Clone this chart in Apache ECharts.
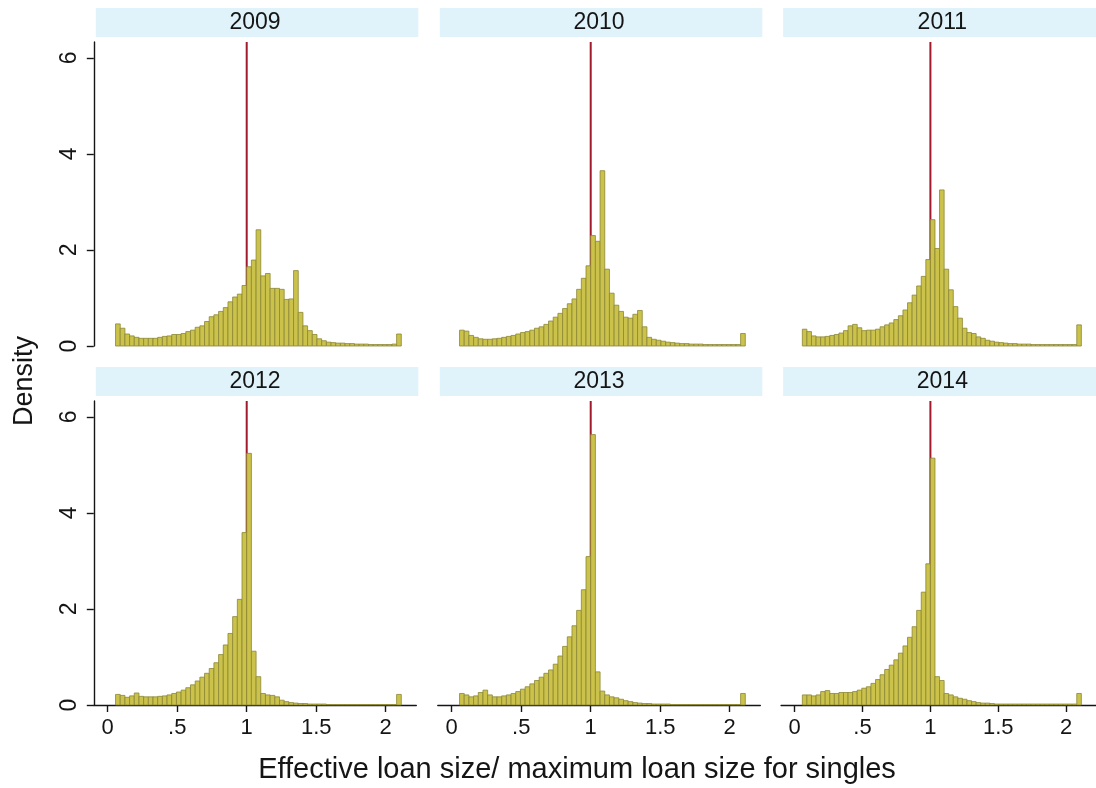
<!DOCTYPE html>
<html>
<head>
<meta charset="utf-8">
<script src="https://cdn.jsdelivr.net/npm/echarts@6/dist/echarts.min.js"></script>
<style>
  html, body { margin: 0; padding: 0; background: #ffffff; }
  #chart { width: 1096px; height: 788px; }
</style>
</head>
<body>
<div id="chart"></div>
<script>
// Histogram bins: 61 equal-width bins, one edge sitting at the cap (ratio = 1)
const BIN_START = 0.0564;
const BIN_WIDTH = 0.0337;

const years = ['2009', '2010', '2011', '2012', '2013', '2014'];

const density2009 = [
  0.46, 0.37, 0.25, 0.21, 0.18, 0.16, 0.16, 0.16, 0.16, 0.18,
  0.20, 0.21, 0.24, 0.24, 0.26, 0.30, 0.33, 0.39, 0.42, 0.51,
  0.61, 0.65, 0.72, 0.80, 0.92, 1.02, 1.08, 1.26, 1.65, 1.79,
  2.42, 1.46, 1.51, 1.20, 1.20, 1.18, 0.97, 0.98, 1.57, 0.70,
  0.42, 0.32, 0.24, 0.15, 0.11, 0.08, 0.07, 0.06, 0.06, 0.05,
  0.05, 0.04, 0.04, 0.04, 0.03, 0.03, 0.03, 0.03, 0.03, 0.04,
  0.25
];
const density2010 = [
  0.33, 0.31, 0.22, 0.18, 0.15, 0.14, 0.14, 0.15, 0.16, 0.18,
  0.20, 0.22, 0.25, 0.28, 0.30, 0.33, 0.37, 0.40, 0.45, 0.52,
  0.60, 0.68, 0.78, 0.88, 0.98, 1.18, 1.41, 1.67, 2.30, 2.18,
  3.65, 1.60, 1.10, 0.85, 0.72, 0.60, 0.58, 0.66, 0.74, 0.40,
  0.18, 0.14, 0.12, 0.10, 0.08, 0.07, 0.06, 0.05, 0.05, 0.04,
  0.04, 0.04, 0.03, 0.03, 0.03, 0.03, 0.03, 0.03, 0.03, 0.03,
  0.26
];
const density2011 = [
  0.35, 0.30, 0.21, 0.19, 0.19, 0.20, 0.22, 0.24, 0.27, 0.32,
  0.42, 0.45, 0.38, 0.32, 0.33, 0.33, 0.35, 0.40, 0.44, 0.48,
  0.55, 0.63, 0.75, 0.90, 1.06, 1.25, 1.45, 1.80, 2.63, 2.03,
  3.25, 1.60, 1.17, 0.82, 0.58, 0.37, 0.28, 0.26, 0.19, 0.16,
  0.12, 0.10, 0.08, 0.07, 0.06, 0.05, 0.05, 0.04, 0.04, 0.04,
  0.03, 0.03, 0.03, 0.03, 0.03, 0.03, 0.03, 0.03, 0.03, 0.03,
  0.44
];
const density2012 = [
  0.22, 0.20, 0.16, 0.19, 0.25, 0.18, 0.17, 0.17, 0.17, 0.18,
  0.19, 0.21, 0.24, 0.27, 0.31, 0.36, 0.42, 0.50, 0.58, 0.66,
  0.76, 0.88, 1.05, 1.25, 1.49, 1.84, 2.20, 3.59, 5.24, 1.12,
  0.59, 0.24, 0.21, 0.20, 0.17, 0.10, 0.07, 0.05, 0.04, 0.03,
  0.03, 0.02, 0.02, 0.02, 0.02, 0.01, 0.01, 0.01, 0.01, 0.01,
  0.01, 0.01, 0.01, 0.01, 0.01, 0.01, 0.01, 0.01, 0.01, 0.01,
  0.22
];
const density2013 = [
  0.24, 0.21, 0.17, 0.19, 0.26, 0.31, 0.21, 0.17, 0.17, 0.19,
  0.21, 0.24, 0.28, 0.33, 0.38, 0.44, 0.51, 0.58, 0.66, 0.73,
  0.85, 1.02, 1.22, 1.42, 1.65, 1.97, 2.40, 3.09, 5.63, 0.69,
  0.29, 0.21, 0.17, 0.15, 0.12, 0.09, 0.07, 0.05, 0.04, 0.03,
  0.03, 0.02, 0.02, 0.02, 0.02, 0.01, 0.01, 0.01, 0.01, 0.01,
  0.01, 0.01, 0.01, 0.01, 0.01, 0.01, 0.01, 0.01, 0.01, 0.01,
  0.24
];
const density2014 = [
  0.21, 0.21, 0.19, 0.21, 0.28, 0.30, 0.24, 0.24, 0.26, 0.26,
  0.26, 0.28, 0.31, 0.35, 0.38, 0.45, 0.53, 0.63, 0.74, 0.83,
  0.94, 1.08, 1.23, 1.41, 1.63, 1.97, 2.35, 2.94, 5.14, 0.59,
  0.51, 0.24, 0.21, 0.17, 0.14, 0.12, 0.09, 0.07, 0.05, 0.04,
  0.04, 0.03, 0.02, 0.02, 0.02, 0.02, 0.02, 0.02, 0.02, 0.02,
  0.02, 0.02, 0.02, 0.02, 0.02, 0.02, 0.02, 0.02, 0.02, 0.02,
  0.24
];
const densities = [density2009, density2010, density2011, density2012, density2013, density2014];

const xTicks = [0, 0.5, 1, 1.5, 2];
const xTickLabels = ['0', '.5', '1', '1.5', '2'];
const yTicks = [0, 2, 4, 6];
const yTickLabels = ['0', '2', '4', '6'];
const capRatio = 1;   // vertical reference line
const xTitle = 'Effective loan size/ maximum loan size for singles';
const yTitle = 'Density';

// axis extents and panel geometry
const X_MIN = -0.1, X_MAX = 2.22, Y_MAX = 6.33;
const colLeft = [93.8, 437.8, 781.1];
const rowTop = [42, 401];
const PANEL_W = 322.5, PANEL_H = 304;
const FONT = '"Liberation Sans", Arial, Helvetica, sans-serif';
const BAR_FILL = '#cac24a', BAR_EDGE = '#8c8734', CAP_RED = '#a01a2c';
const STRIP_FILL = '#e0f3fa';
const INK = '#151515';

const grids = [], xAxes = [], yAxes = [], series = [], graphics = [];

years.forEach((yr, k) => {
  const row = Math.floor(k / 3), col = k % 3;
  const bottomRow = row === 1, leftCol = col === 0;
  grids.push({ left: colLeft[col], top: rowTop[row], width: PANEL_W, height: PANEL_H });

  xAxes.push({
    type: 'value', gridIndex: k, min: X_MIN, max: X_MAX,
    axisLine: { show: bottomRow, onZero: false, lineStyle: { color: INK, width: 1.4 } },
    axisTick: { show: bottomRow, customValues: xTicks, length: 7, lineStyle: { color: INK, width: 1.4 } },
    axisLabel: {
      show: bottomRow, customValues: xTicks, margin: 12,
      formatter: v => xTickLabels[xTicks.indexOf(v)] ?? '',
      fontFamily: FONT, fontSize: 22, color: INK
    },
    splitLine: { show: false }
  });
  yAxes.push({
    type: 'value', gridIndex: k, min: 0, max: Y_MAX,
    axisLine: { show: leftCol, onZero: false, lineStyle: { color: INK, width: 1.4 } },
    axisTick: { show: leftCol, customValues: yTicks, length: 7, lineStyle: { color: INK, width: 1.4 } },
    axisLabel: {
      show: leftCol, customValues: yTicks, rotate: 90, margin: 13,
      formatter: v => yTickLabels[yTicks.indexOf(v)] ?? '',
      fontFamily: FONT, fontSize: 23, color: INK
    },
    splitLine: { show: false }
  });

  // reference line at the loan cap, drawn beneath the bars
  series.push({
    type: 'line', xAxisIndex: k, yAxisIndex: k, z: 1,
    data: [[capRatio, 0], [capRatio, Y_MAX]],
    symbol: 'none', silent: true,
    lineStyle: { color: CAP_RED, width: 2 }
  });

  series.push({
    type: 'custom', xAxisIndex: k, yAxisIndex: k, z: 2,
    encode: { x: [0, 1], y: 2 },
    data: densities[k].map((h, i) => [BIN_START + i * BIN_WIDTH, BIN_START + (i + 1) * BIN_WIDTH, h]),
    renderItem: (params, api) => {
      const topLeft = api.coord([api.value(0), api.value(2)]);
      const bottomRight = api.coord([api.value(1), 0]);
      return {
        type: 'rect',
        shape: { x: topLeft[0], y: topLeft[1], width: bottomRight[0] - topLeft[0], height: bottomRight[1] - topLeft[1] },
        style: { fill: BAR_FILL, stroke: BAR_EDGE, lineWidth: 0.8 }
      };
    }
  });

  // panel header strip with the year
  const stripTop = row === 0 ? 8 : 367;
  graphics.push({
    type: 'rect', silent: true, z: 0,
    shape: { x: colLeft[col] + 2, y: stripTop, width: PANEL_W, height: 29 },
    style: { fill: STRIP_FILL }
  });
  graphics.push({
    type: 'text', silent: true, z: 5,
    x: colLeft[col] + PANEL_W / 2, y: stripTop + 15,
    style: { text: yr, fontFamily: FONT, fontSize: 23, fill: INK, align: 'center', verticalAlign: 'middle' }
  });
});

graphics.push({
  type: 'text', silent: true,
  x: 577, y: 770,
  style: { text: xTitle, fontFamily: FONT, fontSize: 29, fill: INK, align: 'center', verticalAlign: 'middle' }
});
graphics.push({
  type: 'text', silent: true,
  x: 25, y: 381, rotation: Math.PI / 2,
  style: { text: yTitle, fontFamily: FONT, fontSize: 27, fill: INK, align: 'center', verticalAlign: 'middle' }
});

const chart = echarts.init(document.getElementById('chart'), null, { renderer: 'canvas' });
chart.setOption({
  animation: false,
  backgroundColor: '#ffffff',
  grid: grids,
  xAxis: xAxes,
  yAxis: yAxes,
  series: series,
  graphic: graphics
});
</script>
</body>
</html>
